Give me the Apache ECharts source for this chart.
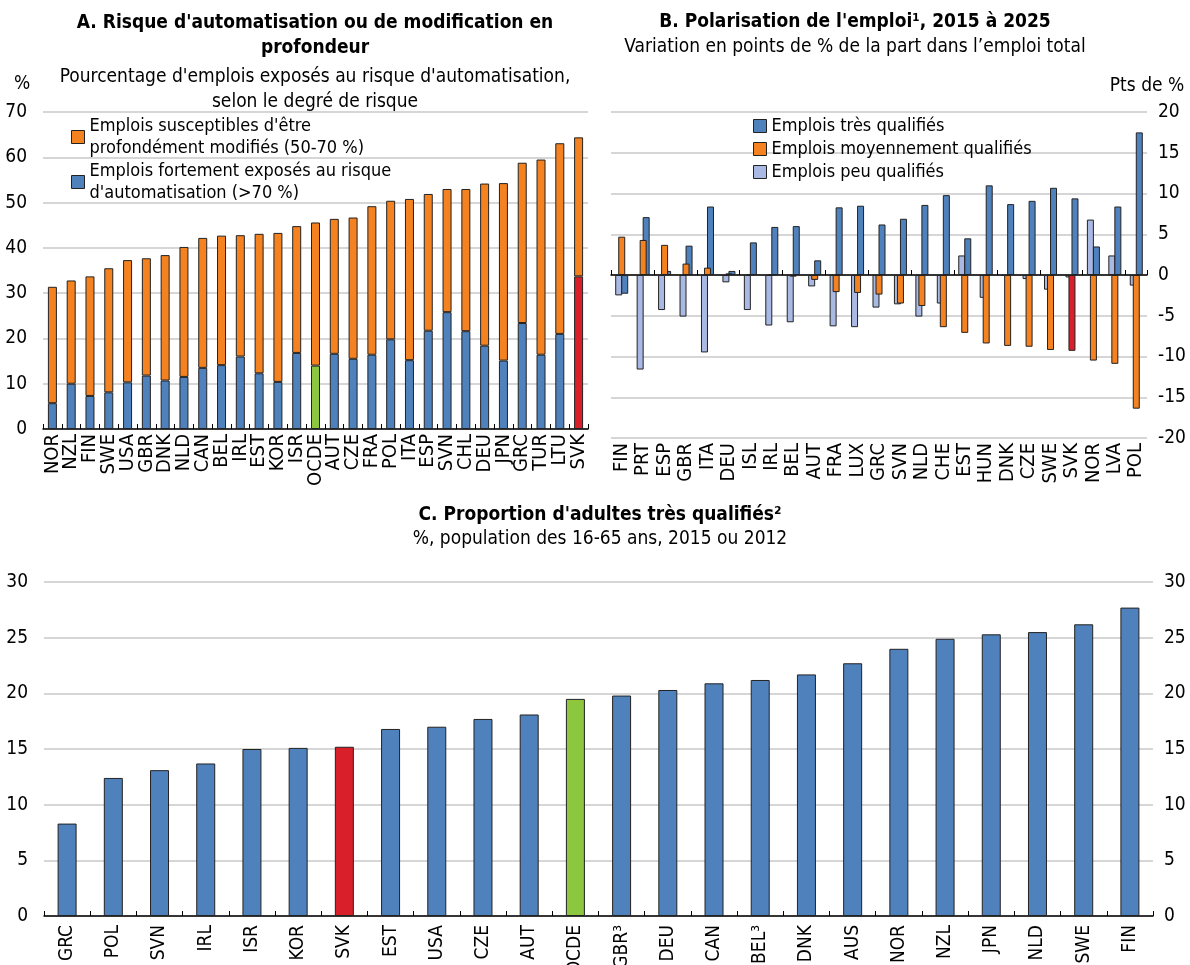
<!DOCTYPE html>
<html>
<head>
<meta charset="utf-8">
<script src="https://cdn.jsdelivr.net/npm/echarts@6/dist/echarts.min.js"></script>
<style>
  html, body { margin: 0; padding: 0; background: #fff; }
  #chart { width: 1190px; height: 965px; }
</style>
</head>
<body>
<div id="chart"></div>
<script>
// Panel A : risque d'automatisation (%)
const paysA = ["NOR", "NZL", "FIN", "SWE", "USA", "GBR", "DNK", "NLD", "CAN", "BEL", "IRL", "EST", "KOR", "ISR", "OCDE",
  "AUT", "CZE", "FRA", "POL", "ITA", "ESP", "SVN", "CHL", "DEU", "JPN", "GRC", "TUR", "LTU", "SVK"];
const risqueEleveA = [5.7, 10.0, 7.3, 8.1, 10.3, 11.8, 10.7, 11.5, 13.5, 14.1, 16.0, 12.3, 10.4, 16.8, 14.0,
  16.6, 15.5, 16.4, 19.8, 15.2, 21.7, 25.8, 21.6, 18.4, 15.1, 23.4, 16.4, 21.0, 33.7];
const risqueModifA = [25.7, 22.8, 26.4, 27.4, 27.0, 25.9, 27.7, 28.7, 28.7, 28.6, 26.8, 30.8, 32.9, 28.0, 31.6,
  29.8, 31.2, 32.8, 30.6, 35.6, 30.2, 27.2, 31.4, 35.8, 39.2, 35.4, 43.1, 42.1, 30.7];

// Panel B : polarisation de l'emploi (pts de %)
const paysB = ["FIN", "PRT", "ESP", "GBR", "ITA", "DEU", "ISL", "IRL", "BEL", "AUT", "FRA", "LUX", "GRC",
  "SVN", "NLD", "CHE", "EST", "HUN", "DNK", "CZE", "SWE", "SVK", "NOR", "LVA", "POL"];
const peuQualifB = [-2.5, -11.6, -4.3, -5.1, -9.5, -0.9, -4.3, -6.2, -5.8, -1.4, -6.3, -6.4, -4.0,
  -3.6, -5.1, -3.5, 2.4, -2.8, -0.1, -0.5, -1.8, -0.3, 6.8, 2.4, -1.3];
const moyenQualifB = [4.7, 4.3, 3.7, 1.4, 0.9, 0.2, 0.1, 0.05, -0.2, -0.6, -2.1, -2.2, -2.4,
  -3.5, -3.8, -6.4, -7.1, -8.4, -8.7, -8.8, -9.2, -9.3, -10.5, -10.9, -16.4];
const tresQualifB = [-2.3, 7.1, 0.5, 3.6, 8.4, 0.5, 4.0, 5.9, 6.0, 1.8, 8.3, 8.5, 6.2,
  6.9, 8.6, 9.8, 4.5, 11.0, 8.7, 9.1, 10.7, 9.4, 3.5, 8.4, 17.5];

// Panel C : adultes très qualifiés (%)
const paysC = ["GRC", "POL", "SVN", "IRL", "ISR", "KOR", "SVK", "EST", "USA", "CZE", "AUT", "OCDE",
  "GBR³", "DEU", "CAN", "BEL³", "DNK", "AUS", "NOR", "NZL", "JPN", "NLD", "SWE", "FIN"];
const adultesC = [8.3, 12.4, 13.1, 13.7, 15.0, 15.1, 15.2, 16.8, 17.0, 17.7, 18.1, 19.5,
  19.8, 20.3, 20.9, 21.2, 21.7, 22.7, 24.0, 24.9, 25.3, 25.5, 26.2, 27.7];

const BLUE = "#4f81bd";
const ORANGE = "#f58220";
const LIGHT = "#a9b9e3";
const RED = "#d9202a";
const GREEN = "#8dc63f";
const FONT = "'DejaVu Sans Condensed', 'Liberation Sans', sans-serif";
const TXT = "#000";
const GRIDLINE = { lineStyle: { color: "#c9c9c9", width: 1.5 } };
const border = { borderColor: "#222", borderWidth: 1 };

function colored(values, names, base) {
  return values.map((v, i) => {
    let c = base;
    if (names[i] === "SVK") c = RED;
    if (names[i] === "OCDE") c = GREEN;
    return { value: v, itemStyle: { color: c } };
  });
}

const legendNames = {
  modif: "Emplois susceptibles d'être\nprofondément modifiés (50-70 %)",
  eleve: "Emplois fortement exposés au risque\nd'automatisation (>70 %)",
  tres: "Emplois très qualifiés",
  moyen: "Emplois moyennement qualifiés",
  peu: "Emplois peu qualifiés"
};

function catAxis(grid, data, extra) {
  return Object.assign({
    type: "category",
    gridIndex: grid,
    data: data,
    axisLine: { show: true, lineStyle: { color: "#000", width: 1.5 } },
    axisTick: { show: true, inside: true, length: 5, lineStyle: { color: "#000" } },
    axisLabel: { rotate: 90, interval: 0, color: TXT, fontFamily: FONT, fontSize: 20, margin: 5 }
  }, extra || {});
}

function valAxis(grid, min, max, interval, extra) {
  return Object.assign({
    type: "value",
    gridIndex: grid,
    min: min,
    max: max,
    interval: interval,
    axisLine: { show: false },
    axisTick: { show: false },
    splitLine: GRIDLINE,
    axisLabel: { color: TXT, fontFamily: FONT, fontSize: 19 }
  }, extra || {});
}

const chart = echarts.init(document.getElementById("chart"));

chart.setOption({
  backgroundColor: "#fff",
  animation: false,
  textStyle: { fontFamily: FONT },
  title: [
    {
      text: "A. Risque d'automatisation ou de modification en\nprofondeur",
      subtext: "Pourcentage d'emplois exposés au risque d'automatisation,\nselon le degré de risque",
      left: 310, top: 6, textAlign: "center", itemGap: 4,
      textStyle: { fontFamily: FONT, fontSize: 19, fontWeight: "bold", color: TXT, lineHeight: 25 },
      subtextStyle: { fontFamily: FONT, fontSize: 19, color: TXT, lineHeight: 25 }
    },
    {
      text: "B. Polarisation de l'emploi¹, 2015 à 2025",
      subtext: "Variation en points de % de la part dans l’emploi total",
      left: 850, top: 8, textAlign: "center", itemGap: 6,
      textStyle: { fontFamily: FONT, fontSize: 19, fontWeight: "bold", color: TXT },
      subtextStyle: { fontFamily: FONT, fontSize: 19, color: TXT }
    },
    {
      text: "C. Proportion d'adultes très qualifiés²",
      subtext: "%, population des 16-65 ans, 2015 ou 2012",
      left: 595, top: 501, textAlign: "center", itemGap: 5,
      textStyle: { fontFamily: FONT, fontSize: 19, fontWeight: "bold", color: TXT },
      subtextStyle: { fontFamily: FONT, fontSize: 19, color: TXT }
    }
  ],
  legend: [
    {
      data: ["modif", "eleve"],
      orient: "vertical", left: 66, top: 99, itemGap: -21,
      itemWidth: 13, itemHeight: 13, icon: "rect",
      formatter: n => legendNames[n],
      itemStyle: border,
      textStyle: { fontFamily: FONT, fontSize: 18, color: TXT, lineHeight: 22, padding: [22, 0, 0, 0] }
    },
    {
      data: ["tres", "moyen", "peu"],
      orient: "vertical", left: 748, top: 112, itemGap: 5,
      itemWidth: 13, itemHeight: 13, icon: "rect",
      formatter: n => legendNames[n],
      itemStyle: border,
      textStyle: { fontFamily: FONT, fontSize: 18, color: TXT }
    }
  ],
  grid: [
    { left: 43, width: 545, top: 112, height: 317, outerBoundsMode: "none" },
    { left: 611, width: 536, top: 112, height: 326, outerBoundsMode: "none" },
    { left: 44, width: 1109, top: 582, height: 334, outerBoundsMode: "none" }
  ],
  xAxis: [
    catAxis(0, paysA),
    catAxis(1, paysB, { axisLine: { show: false }, axisTick: { show: false } }),
    catAxis(1, paysB, {
      position: "bottom",
      axisLine: { show: true, onZero: true, onZeroAxisIndex: 1, lineStyle: { color: "#000", width: 1.5 } },
      axisLabel: { show: false }
    }),
    catAxis(2, paysC, { axisLabel: { rotate: 90, interval: 0, color: TXT, fontFamily: FONT, fontSize: 19, margin: 9 } })
  ],
  yAxis: [
    valAxis(0, 0, 70, 10, {
      name: "%", nameLocation: "end", nameGap: 18,
      nameTextStyle: { color: TXT, fontFamily: FONT, fontSize: 19, padding: [0, 42, 0, 0] },
      axisLabel: { color: TXT, fontFamily: FONT, fontSize: 19, margin: 16 }
    }),
    valAxis(1, -20, 20, 5, {
      position: "right",
      name: "Pts de %", nameLocation: "end", nameGap: 16,
      nameTextStyle: { color: TXT, fontFamily: FONT, fontSize: 19, align: "center" },
      axisLabel: { color: TXT, fontFamily: FONT, fontSize: 19, margin: 11 }
    }),
    valAxis(2, 0, 30, 5, { axisLabel: { color: TXT, fontFamily: FONT, fontSize: 19, margin: 16 } }),
    valAxis(2, 0, 30, 5, {
      position: "right", splitLine: { show: false },
      axisLabel: { color: TXT, fontFamily: FONT, fontSize: 19, margin: 11 }
    })
  ],
  series: [
    {
      name: "eleve", type: "bar", stack: "a", xAxisIndex: 0, yAxisIndex: 0,
      barWidth: 9, itemStyle: Object.assign({ color: BLUE }, border),
      data: colored(risqueEleveA, paysA, BLUE)
    },
    {
      name: "modif", type: "bar", stack: "a", xAxisIndex: 0, yAxisIndex: 0,
      barWidth: 9, itemStyle: Object.assign({ color: ORANGE }, border),
      data: risqueModifA
    },
    {
      name: "peu", type: "bar", xAxisIndex: 1, yAxisIndex: 1, z: 2,
      barWidth: 7, barGap: "-57%", itemStyle: Object.assign({ color: LIGHT }, border),
      data: peuQualifB
    },
    {
      name: "moyen", type: "bar", xAxisIndex: 1, yAxisIndex: 1, z: 4,
      barWidth: 7, barGap: "-57%", itemStyle: Object.assign({ color: ORANGE }, border),
      data: colored(moyenQualifB, paysB, ORANGE)
    },
    {
      name: "tres", type: "bar", xAxisIndex: 1, yAxisIndex: 1, z: 3,
      barWidth: 7, barGap: "-57%", itemStyle: Object.assign({ color: BLUE }, border),
      data: tresQualifB
    },
    {
      name: "adultes", type: "bar", xAxisIndex: 3, yAxisIndex: 2,
      barWidth: 19, itemStyle: Object.assign({ color: BLUE }, border),
      data: colored(adultesC, paysC, BLUE)
    }
  ]
});
</script>
</body>
</html>
